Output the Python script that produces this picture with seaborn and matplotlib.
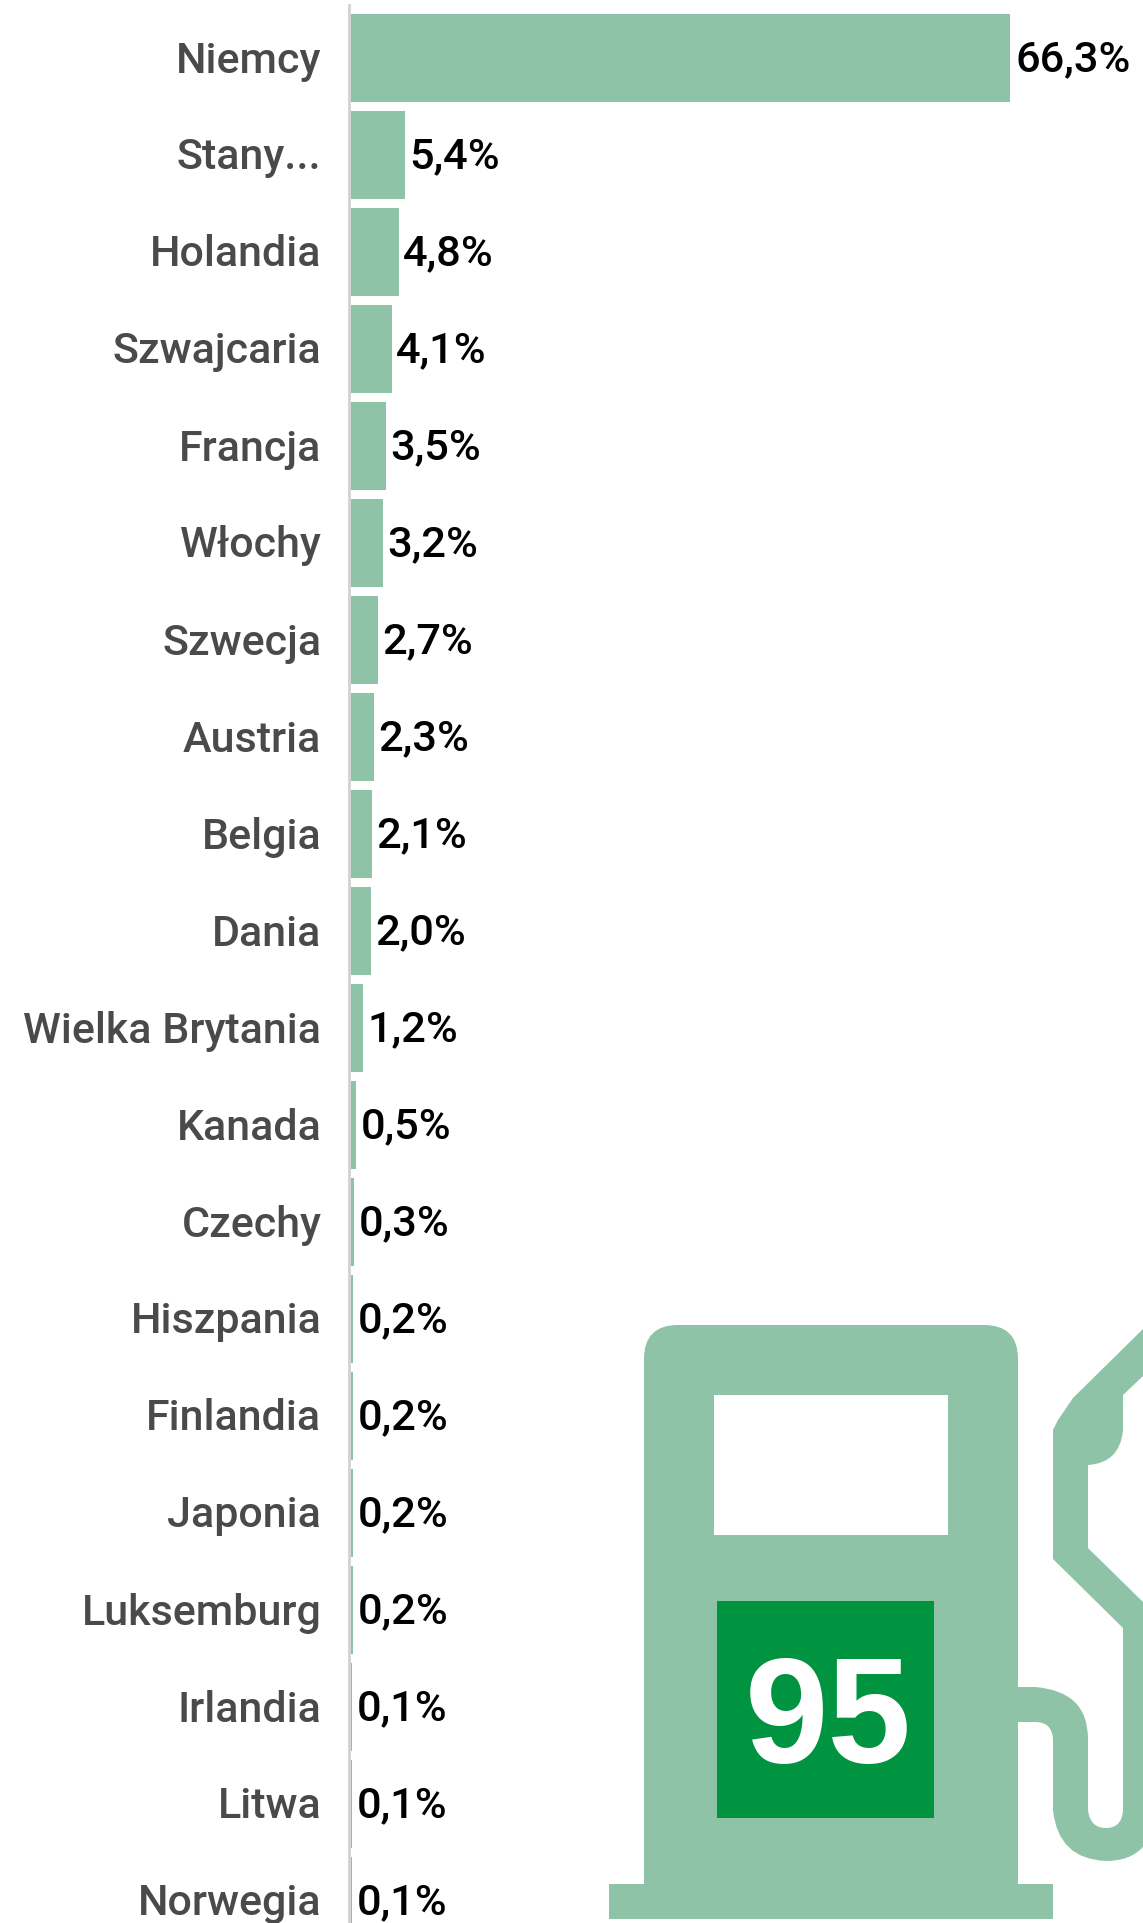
import matplotlib
matplotlib.use("Agg")
import matplotlib.pyplot as plt
import seaborn as sns
import pandas as pd
from matplotlib.path import Path
from matplotlib.patches import PathPatch, Rectangle, FancyBboxPatch
from matplotlib.transforms import ScaledTranslation

countries = ["Niemcy", "Stany...", "Holandia", "Szwajcaria", "Francja", "Włochy", "Szwecja",
             "Austria", "Belgia", "Dania", "Wielka Brytania", "Kanada", "Czechy", "Hiszpania",
             "Finlandia", "Japonia", "Luksemburg", "Irlandia", "Litwa", "Norwegia"]
shares = [66.3, 5.4, 4.8, 4.1, 3.5, 3.2, 2.7, 2.3, 2.1, 2.0, 1.2, 0.5, 0.3, 0.2, 0.2, 0.2, 0.2, 0.1, 0.1, 0.1]

BAR = "#8fc3a8"
W, H = 1143, 1923
X0, CY = 350.8, 57.7
sns.set_theme(style="white")
plt.rcParams["font.family"] = ["Roboto", "DejaVu Sans"]
plt.rcParams["font.weight"] = 500

fig = plt.figure(figsize=(W / 100, H / 100), dpi=100, facecolor="white")
ax = fig.add_axes([X0 / W, 0, 1 - X0 / W, 1])
df = pd.DataFrame({"kraj": countries, "udzial": shares})
sns.barplot(data=df, y="kraj", x="udzial", color=BAR, saturation=1, width=88 / 97,
            linewidth=0, edgecolor="none", ax=ax, zorder=3)
ax.set_xlim(0, (W - X0) / 9.95)
ax.set_ylim((H - CY) / 97, -CY / 97)
ax.set_xlabel(""); ax.set_ylabel("")
ax.set_xticks([])
ax.tick_params(axis="y", length=0, pad=20.2, labelsize=31, labelcolor="#4a4a4a")
for s in ["top", "right", "bottom"]:
    ax.spines[s].set_visible(False)
ax.spines["left"].set_color("#d2d2d2")
ax.spines["left"].set_linewidth(2.0)
ax.spines["left"].set_position(("outward", 1.0))
ax.spines["left"].set_bounds((5 - CY) / 97, (H - CY) / 97)
ax.spines["left"].set_zorder(1)
ax.patch.set_alpha(0)
for i, v in enumerate(shares):
    ax.annotate(f"{v:.1f}%".replace(".", ","), (v, i), xytext=(3.4, -1.2), textcoords="offset points",
                va="center", ha="left", fontsize=31.2, color="black", fontweight=500, zorder=4)

# Pump icon, drawn in figure pixel coordinates
ic = fig.add_axes([0, 0, 1, 1], facecolor="none")
ic.set_xlim(0, W); ic.set_ylim(H, 0); ic.axis("off")
ic.add_patch(FancyBboxPatch((644, 1325), 374, 590, boxstyle="round,pad=0,rounding_size=34",
                            fc=BAR, ec="none"))
ic.add_patch(Rectangle((609, 1884), 444, 35, fc=BAR, ec="none"))
ic.add_patch(Rectangle((714, 1394.5), 234, 140.5, fc="white", ec="none"))
ic.add_patch(Rectangle((717, 1600.5), 217, 217.5, fc="#009340", ec="none"))
ic.text(828, 1708, "95", color="white", fontsize=108, fontweight="bold",
        family=["Liberation Sans"], ha="center", va="center_baseline")

M, L, C, Z = Path.MOVETO, Path.LINETO, Path.CURVE3, Path.CLOSEPOLY
hose = [
    (M, (1018, 1687)), (L, (1035, 1687)), (C, (1088, 1691)), (C, (1088, 1739)),
    (L, (1088, 1810)), (C, (1090, 1828)), (C, (1106, 1828)), (C, (1122, 1828)), (C, (1123, 1810)),
    (L, (1123, 1628)), (L, (1053, 1559)), (L, (1053, 1430)), (L, (1058, 1420)), (L, (1073, 1398)),
    (L, (1143, 1329)), (L, (1143, 1376)), (L, (1123, 1395)), (L, (1123, 1430)),
    (C, (1120, 1463)), (C, (1088, 1465)), (L, (1088, 1548)), (L, (1143, 1602)), (L, (1143, 1847)),
    (C, (1130, 1861)), (C, (1106, 1861)), (C, (1058, 1859)), (C, (1053, 1810)),
    (L, (1053, 1739)), (C, (1052, 1722)), (C, (1035, 1722)), (L, (1018, 1722)), (Z, (1018, 1687)),
]
ic.add_patch(PathPatch(Path([p for _, p in hose], [c for c, _ in hose]), fc=BAR, ec="none"))

fig.canvas.draw()
lift = ScaledTranslation(0, 1.2 / 100, fig.dpi_scale_trans)
for tick in ax.yaxis.get_major_ticks():
    tick.label1.set_transform(tick.label1.get_transform() + lift)

fig.savefig("out.png", dpi=100, facecolor="white")
